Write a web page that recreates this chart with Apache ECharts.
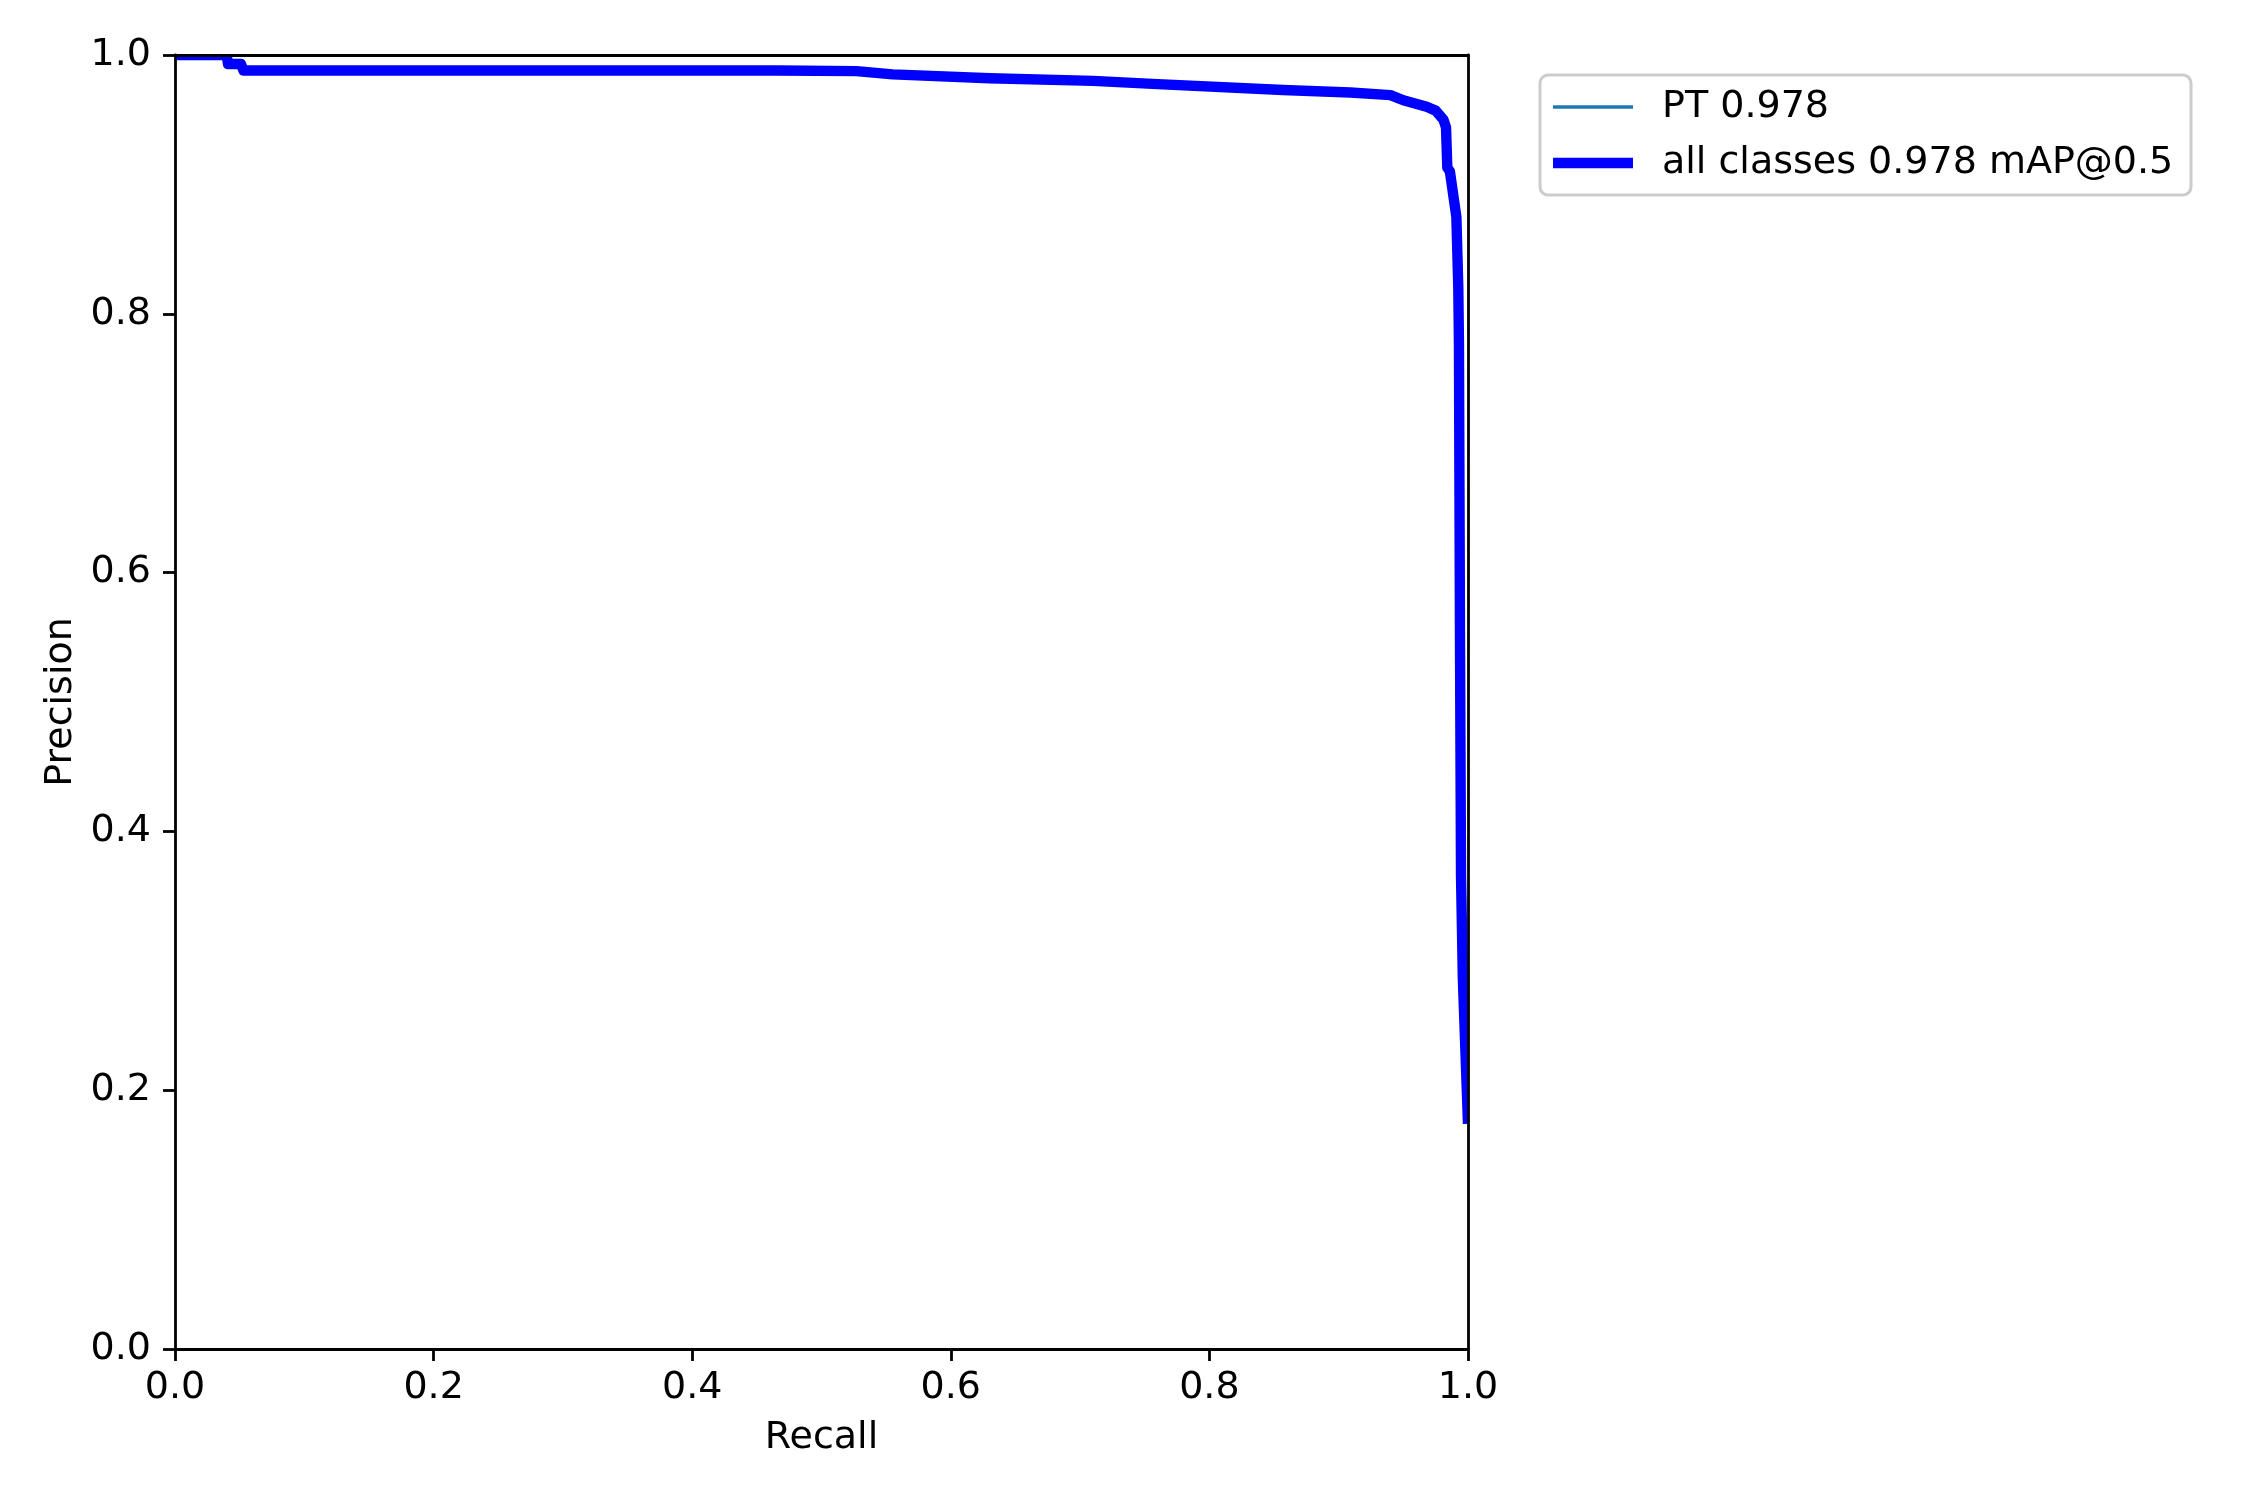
<!DOCTYPE html>
<html>
<head>
<meta charset="utf-8">
<title>Precision-Recall Curve</title>
<script src="https://cdn.jsdelivr.net/npm/echarts@6/dist/echarts.min.js"></script>
<style>
  html, body { margin: 0; padding: 0; background: #fff; }
  #chart { width: 2250px; height: 1500px; }
</style>
</head>
<body>
<div id="chart"></div>
<script>
// PR curve
const recall = [0, 0.040, 0.041, 0.051, 0.053, 0.375, 0.466, 0.527, 0.555, 0.63, 0.71, 0.76,
  0.857, 0.909, 0.94, 0.95, 0.968, 0.975, 0.981, 0.983, 0.984, 0.986, 0.991, 0.9925,
  0.993, 0.9938, 0.9946, 0.996, 1.0]
const precision = [1.0, 1.0, 0.993, 0.993, 0.988, 0.988, 0.988, 0.9875, 0.985, 0.982, 0.980, 0.9775,
  0.973, 0.971, 0.969, 0.965, 0.960, 0.957, 0.950, 0.944, 0.913, 0.91, 0.875, 0.82,
  0.777, 0.549, 0.366, 0.287, 0.174]
const seriesNames = ['PT 0.978', 'all classes 0.978 mAP@0.5']
const axisTicks = [0, 0.2, 0.4, 0.6, 0.8, 1.0]

const FONT = 'DejaVu Sans'
const FS = 38
const points = recall.map((r, i) => [r, precision[i]])

// plot box (matplotlib axes)
const G = { left: 175, top: 55, width: 1293, height: 1294 }

const chart = echarts.init(document.getElementById('chart'), null, { renderer: 'canvas' })

const mainAxis = (name, gap, label) => ({
  type: 'value',
  min: axisTicks[0],
  max: axisTicks[axisTicks.length - 1],
  interval: 0.2,
  name: name,
  nameLocation: 'middle',
  nameGap: gap,
  nameTextStyle: { fontFamily: FONT, fontSize: FS, color: '#000' },
  axisLine: { show: true, onZero: false, lineStyle: { color: '#000', width: 2.8 } },
  axisTick: { show: true, inside: false, length: 12, lineStyle: { color: '#000', width: 2.8 } },
  axisLabel: Object.assign({
    show: true, fontFamily: FONT, fontSize: FS, color: '#000',
    formatter: v => v.toFixed(1)
  }, label),
  splitLine: { show: false },
  z: 5
})

const frameAxis = (pos) => ({
  type: 'value',
  min: 0,
  max: 1,
  position: pos,
  axisLine: { show: true, onZero: false, lineStyle: { color: '#000', width: 2.8 } },
  axisTick: { show: false },
  axisLabel: { show: false },
  splitLine: { show: false },
  z: 5
})

const legendItem = (name, top, h) => ({
  orient: 'vertical',
  left: 1553,
  top: top,
  padding: 0,
  itemWidth: 80,
  itemHeight: h,
  icon: 'rect',
  selectedMode: false,
  textStyle: {
    fontFamily: FONT, fontSize: FS, color: '#000',
    lineHeight: 40, padding: [0, 0, 0, 24]
  },
  data: [name]
})

chart.setOption({
  backgroundColor: '#fff',
  animation: false,
  grid: Object.assign({ containLabel: false }, G),
  xAxis: [mainAxis('Recall', 70, { margin: 20 }), frameAxis('top')],
  yAxis: [mainAxis('Precision', 95, { margin: 24, padding: [6, 0, 0, 0] }), frameAxis('right')],
  legend: [
    legendItem(seriesNames[0], 87, 3.5),
    legendItem(seriesNames[1], 143, 10.4)
  ],
  graphic: [
    // legend frame
    {
      type: 'rect', z: 1,
      shape: { x: 1540, y: 75, width: 651, height: 120, r: 8 },
      style: { fill: 'rgba(255,255,255,0.8)', stroke: '#cccccc', lineWidth: 3 }
    },
    // white strips so the thick line is cut at the axes edge like matplotlib
    {
      type: 'rect', z: 4, silent: true,
      shape: { x: G.left - 8, y: G.top - 12, width: G.width + 20, height: 12 },
      style: { fill: '#fff' }
    },
    {
      type: 'rect', z: 4, silent: true,
      shape: { x: G.left + G.width, y: G.top - 12, width: 12, height: G.height + 12 },
      style: { fill: '#fff' }
    }
  ],
  series: [
    {
      name: seriesNames[0],
      type: 'line',
      data: points,
      symbol: 'none',
      color: '#1f77b4',
      lineStyle: { color: '#1f77b4', width: 3.5, join: 'round' },
      z: 2
    },
    {
      name: seriesNames[1],
      type: 'line',
      data: points,
      symbol: 'none',
      color: '#0000ff',
      lineStyle: { color: '#0000ff', width: 10.4, join: 'round' },
      z: 3
    }
  ]
})
</script>
</body>
</html>
